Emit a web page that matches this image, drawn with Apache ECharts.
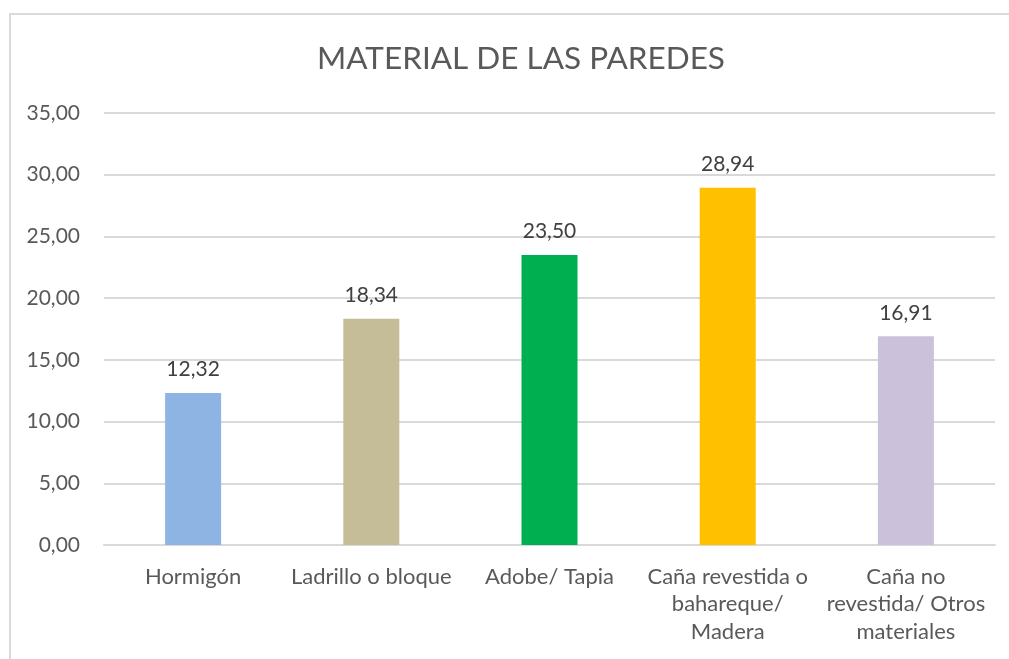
<!DOCTYPE html>
<html>
<head>
<meta charset="utf-8">
<style>
  html, body { margin: 0; padding: 0; background: #fff; }
  #chart { width: 1009px; height: 659px; }
</style>
<script src="https://cdn.jsdelivr.net/npm/echarts@6/dist/echarts.min.js"></script>
</head>
<body>
<div id="chart"></div>
<script>
// datos
const categorias = ['Hormigón', 'Ladrillo o bloque', 'Adobe/ Tapia', 'Caña revestida o\nbahareque/\nMadera', 'Caña no\nrevestida/ Otros\nmateriales'];
const valores = [12.32, 18.34, 23.50, 28.94, 16.91];
const colores = ['#8EB4E3', '#C4BD97', '#00B050', '#FFC000', '#CCC1DA'];

const fmt = v => v.toFixed(2).replace('.', ',');
const fuente = 'Lato, "Open Sans", sans-serif';

const chart = echarts.init(document.getElementById('chart'));

const option = {
    animation: false,
    graphic: [{
        type: 'rect',
        shape: {x: 10, y: 14, width: 1200, height: 800},
        style: {fill: 'none', stroke: '#d9d9d9', lineWidth: 2}
    }],
    title: {
        text: 'MATERIAL DE LAS PAREDES',
        left: 312,
        top: 38,
        textStyle: {fontFamily: fuente, fontSize: 31.5, fontWeight: 'normal', color: '#595959'}
    },
    grid: {left: 104, right: 14, top: 113, bottom: 114},
    xAxis: {
        type: 'category',
        data: categorias,
        axisLine: {lineStyle: {color: '#d9d9d9', width: 2}},
        axisTick: {show: false},
        axisLabel: {
            interval: 0,
            margin: 18,
            fontFamily: fuente,
            fontSize: 22,
            lineHeight: 27.5,
            color: '#595959'
        }
    },
    yAxis: {
        type: 'value',
        min: 0,
        max: 35,
        interval: 5,
        axisLine: {show: false},
        axisTick: {show: false},
        splitLine: {lineStyle: {color: '#d9d9d9', width: 2}},
        axisLabel: {
            margin: 24,
            fontFamily: fuente,
            fontSize: 21,
            color: '#595959',
            formatter: fmt
        }
    },
    series: [{
        type: 'bar',
        barWidth: 56,
        data: valores.map((v, i) => ({value: v, itemStyle: {color: colores[i]}})),
        label: {
            show: true,
            position: 'top',
            distance: 13,
            fontFamily: fuente,
            fontSize: 21,
            color: '#404040',
            formatter: p => fmt(p.value)
        }
    }]
};

chart.setOption(option);
</script>
</body>
</html>
